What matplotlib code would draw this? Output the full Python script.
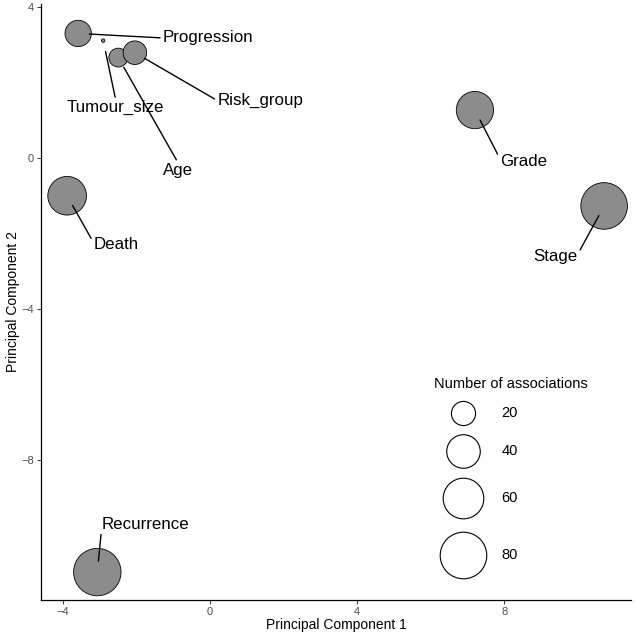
import numpy as np
import matplotlib
matplotlib.use("Agg")
import matplotlib.pyplot as plt

# -------- DATA --------
variables = ["Progression", "Tumour_size", "Age", "Risk_group",
             "Grade", "Stage", "Death", "Recurrence"]
pc1 = [-3.58, -2.90, -2.49, -2.04, 7.20, 10.71, -3.88, -3.06]
pc2 = [3.30, 3.11, 2.66, 2.79, 1.27, -1.27, -1.00, -10.97]
n_assoc = [24, 2, 12, 19, 50, 80, 54, 83]

legend_values = [20, 40, 60, 80]
x_ticks = [-4, 0, 4, 8]
y_ticks = [-8, -4, 0, 4]

# label placement (repelled text positions, data coords) + where the segment meets the label box
label_x = [-0.05, -2.56, -0.87, 1.37, 8.53, 9.38, -2.54, -1.74]
label_y = [3.18, 1.34, -0.32, 1.52, -0.08, -2.61, -2.30, -9.70]
label_anchor = [(0, 0.5), (0.5, 1), (0.5, 1), (0, 0.5),
                (0, 0.6), (1, 0.6), (0, 0.6), (0, 0.5)]

# -------- STYLE --------
W, H, DPI = 635, 638, 100
plt.rcParams['font.family'] = ['Liberation Sans', 'DejaVu Sans']
FILL = '#8c8c8c'

vmin, vmax = min(n_assoc), max(n_assoc)


def bubble_size(v):
    # ggplot-like scale_size: radius grows with sqrt of rescaled value
    r = 1.7 + 22.0 * np.sqrt((np.asarray(v, dtype=float) - vmin) / (vmax - vmin))
    return (2 * r * 72 / DPI) ** 2


def px(x, y):
    return x / W, 1 - y / H


fig = plt.figure(figsize=(W / DPI, H / DPI), dpi=DPI)
ax = fig.add_axes([41 / W, 1 - 600 / H, (631 - 41) / W, (600 - 4) / H])

ax.scatter(pc1, pc2, s=bubble_size(n_assoc), c=FILL, edgecolors='black',
           linewidths=0.6, zorder=2, clip_on=False)

for name, x, y, lx, ly, rp in zip(variables, pc1, pc2, label_x, label_y, label_anchor):
    ax.annotate(name, xy=(x, y), xytext=(lx, ly), ha='center', va='center',
                fontsize=12.2, color='black', zorder=4,
                arrowprops=dict(arrowstyle='-', color='black', lw=1.0,
                                shrinkA=0, shrinkB=8, relpos=rp))

ax.set_xlim(-4.59, 11.44)
ax.set_ylim(-11.71, 4.08)
ax.set_xticks(x_ticks)
ax.set_yticks(y_ticks)
ax.tick_params(labelsize=8, labelcolor='#4d4d4d', color='#333333',
               length=3, width=0.7, pad=2)
for side in ['top', 'right']:
    ax.spines[side].set_visible(False)
for side in ['left', 'bottom']:
    ax.spines[side].set_linewidth(0.9)

ax.set_xlabel("Principal Component 1", fontsize=10, labelpad=1)
ax.set_ylabel("Principal Component 2", fontsize=10, labelpad=1)

# -------- LEGEND (drawn by hand, ggplot style) --------
fig.text(*px(434, 384), "Number of associations", fontsize=10.5,
         ha='left', va='center')
key_y = [413.3, 450.7, 498.3, 555.0]
for v, ky in zip(legend_values, key_y):
    kx, kyf = px(463.3, ky)
    ax.scatter([kx], [kyf], s=bubble_size(v),
               facecolors='white', edgecolors='black', linewidths=0.8,
               transform=fig.transFigure, clip_on=False, zorder=5)
    fig.text(*px(501.7, ky), str(v), fontsize=10.5, ha='left', va='center')

fig.savefig("out.png", dpi=DPI)
